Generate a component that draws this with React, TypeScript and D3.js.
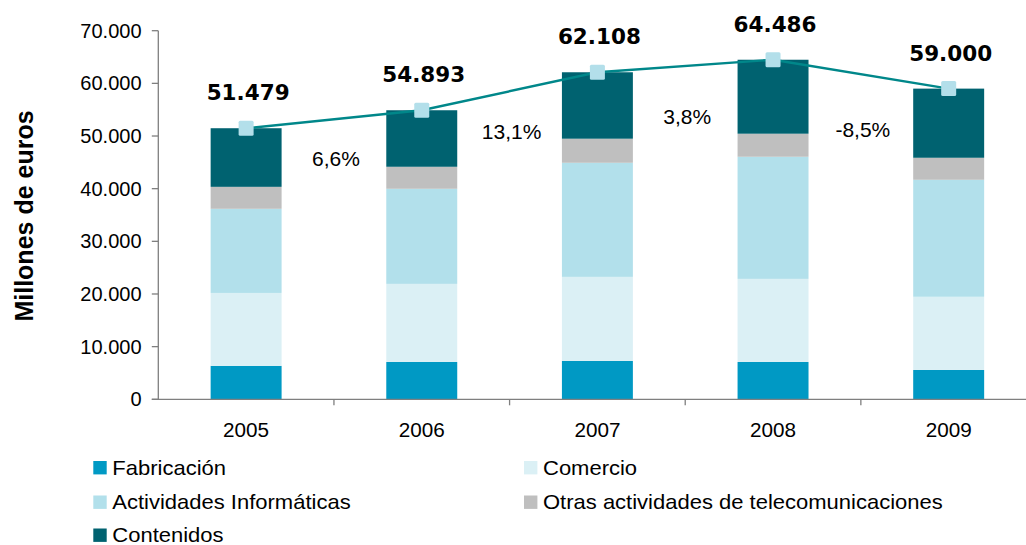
import React from "react";
import * as d3 from "d3";

const years = ["2005", "2006", "2007", "2008", "2009"];
const fabricacion = [6350, 7090, 7280, 7090, 5570];
const comercio = [13850, 14830, 15970, 15780, 13900];
const informaticas = [15980, 18060, 21670, 23190, 22220];
const otras = [4170, 4180, 4570, 4380, 4180];
const contenidos = [11129, 10733, 12618, 14046, 13130];
const totals = [51479, 54893, 62108, 64486, 59000];
const yTicks = [0, 10000, 20000, 30000, 40000, 50000, 60000, 70000];
// vertical anchor (in data units) of the growth annotations
const growthLabelLevel = [44345, 49477, 52328, 49857];

const seriesNames = [
  "Fabricación",
  "Comercio",
  "Actividades Informáticas",
  "Otras actividades de telecomunicaciones",
  "Contenidos",
];
const seriesValues = [fabricacion, comercio, informaticas, otras, contenidos];
const colors = ["#0099c4", "#dbf0f5", "#b2e0eb", "#bfbfbf", "#006270"];

const W = 1026;
const H = 545;
const left = 158.3;
const right = 1036.5;
const y0 = 399.3;
const yTop = 30.7;

const locale = d3.formatLocale({
  decimal: ",",
  thousands: ".",
  grouping: [3],
  currency: ["", "€"],
  minus: "-",
});
const fmt = locale.format(",d");
const pct = locale.format(".1f");

export default function App() {
  const x = d3
    .scaleBand<string>()
    .domain(years)
    .range([left, right])
    .paddingInner(0.596)
    .paddingOuter(0.298);
  const y = d3.scaleLinear().domain([0, 70000]).range([y0, yTop]);
  const step = x.step();
  const bw = x.bandwidth();

  const table = years.map((yr, i) => {
    const row: any = { year: yr };
    seriesNames.forEach((s, k) => (row[s] = seriesValues[k][i]));
    return row;
  });
  const stacked = d3.stack().keys(seriesNames)(table);

  const cx = (i: number) => (x(years[i]) as number) + bw / 2;
  const line = d3
    .line<number>()
    .x((_, i) => cx(i))
    .y((d) => y(d));

  const boundaries = d3.range(1, years.length + 1).map((i) => left + i * step);

  const growth = totals.slice(1).map((t, i) => {
    const g = (t / totals[i] - 1) * 100;
    return pct(g).replace("\u2212", "-") + "%";
  });

  const axisColor = "#7f7f7f";
  const sans = "'Liberation Sans', Arial, sans-serif";

  const legendPos = [
    [93.3, 461],
    [524, 461],
    [93.3, 495.5],
    [524, 495.5],
    [93.3, 528.5],
  ];

  return (
    <svg
      width={W}
      height={H}
      style={{ position: "absolute", left: 0, top: 0, background: "#fff" }}
      fontFamily={sans}
    >
      <rect x={0} y={0} width={W} height={H} fill="#fff" />
      {/* bars */}
      {stacked.map((layer, k) => (
        <g key={k} fill={colors[k]}>
          {layer.map((d, i) => (
            <rect
              key={i}
              x={x(years[i])}
              width={bw}
              y={y(d[1])}
              height={y(d[0]) - y(d[1])}
            />
          ))}
        </g>
      ))}

      {/* y axis */}
      <line x1={left} x2={left} y1={yTop} y2={y0} stroke={axisColor} strokeWidth={1.3} />
      {yTicks.map((t) => (
        <g key={t}>
          <line x1={left - 6.5} x2={left} y1={y(t)} y2={y(t)} stroke={axisColor} strokeWidth={1.3} />
          <text
            x={141.5}
            y={y(t) + 7}
            textAnchor="end"
            fontSize={20}
            fill="#000"
          >
            {fmt(t)}
          </text>
        </g>
      ))}

      {/* x axis */}
      <line x1={left - 6.5} x2={W} y1={y0} y2={y0} stroke={axisColor} strokeWidth={1.3} />
      {boundaries.map((b, i) => (
        <line key={i} x1={b} x2={b} y1={y0} y2={y0 + 6} stroke={axisColor} strokeWidth={1.3} />
      ))}
      {years.map((yr, i) => (
        <text key={yr} x={cx(i)} y={437} textAnchor="middle" fontSize={20.7} fill="#000">
          {yr}
        </text>
      ))}

      {/* y title */}
      <text
        transform={`translate(33,216) rotate(-90)`}
        textAnchor="middle"
        fontSize={25}
        fontWeight="bold"
        fill="#000"
      >
        Millones de euros
      </text>

      {/* total line */}
      <path d={line(totals) as string} fill="none" stroke="#00878a" strokeWidth={2.4} />
      {totals.map((t, i) => (
        <rect
          key={i}
          x={cx(i) - 7.5}
          y={y(t) - 7.5}
          width={15}
          height={15}
          rx={1.5}
          fill="#b3dfea"
        />
      ))}

      {/* total labels */}
      {totals.map((t, i) => (
        <text
          key={i}
          x={cx(i) + 2}
          y={y(t) - 28}
          textAnchor="middle"
          fontSize={21.5}
          fontWeight="bold"
          fontFamily="'DejaVu Sans', Verdana, sans-serif"
          fill="#000"
        >
          {fmt(t)}
        </text>
      ))}

      {/* growth labels */}
      {growth.map((g, i) => (
        <text
          key={i}
          x={boundaries[i] + 2}
          y={y(growthLabelLevel[i])}
          textAnchor="middle"
          fontSize={21}
          fill="#000"
        >
          {g}
        </text>
      ))}

      {/* legend */}
      {seriesNames.map((s, k) => (
        <g key={s}>
          <rect
            x={legendPos[k][0]}
            y={legendPos[k][1]}
            width={13.4}
            height={13.4}
            fill={colors[k]}
          />
          <text
            transform={`translate(${legendPos[k][0] + 19},${legendPos[k][1] + 13.5}) scale(1.1,1)`}
            fontSize={20}
            fill="#000"
          >
            {s}
          </text>
        </g>
      ))}
    </svg>
  );
}
